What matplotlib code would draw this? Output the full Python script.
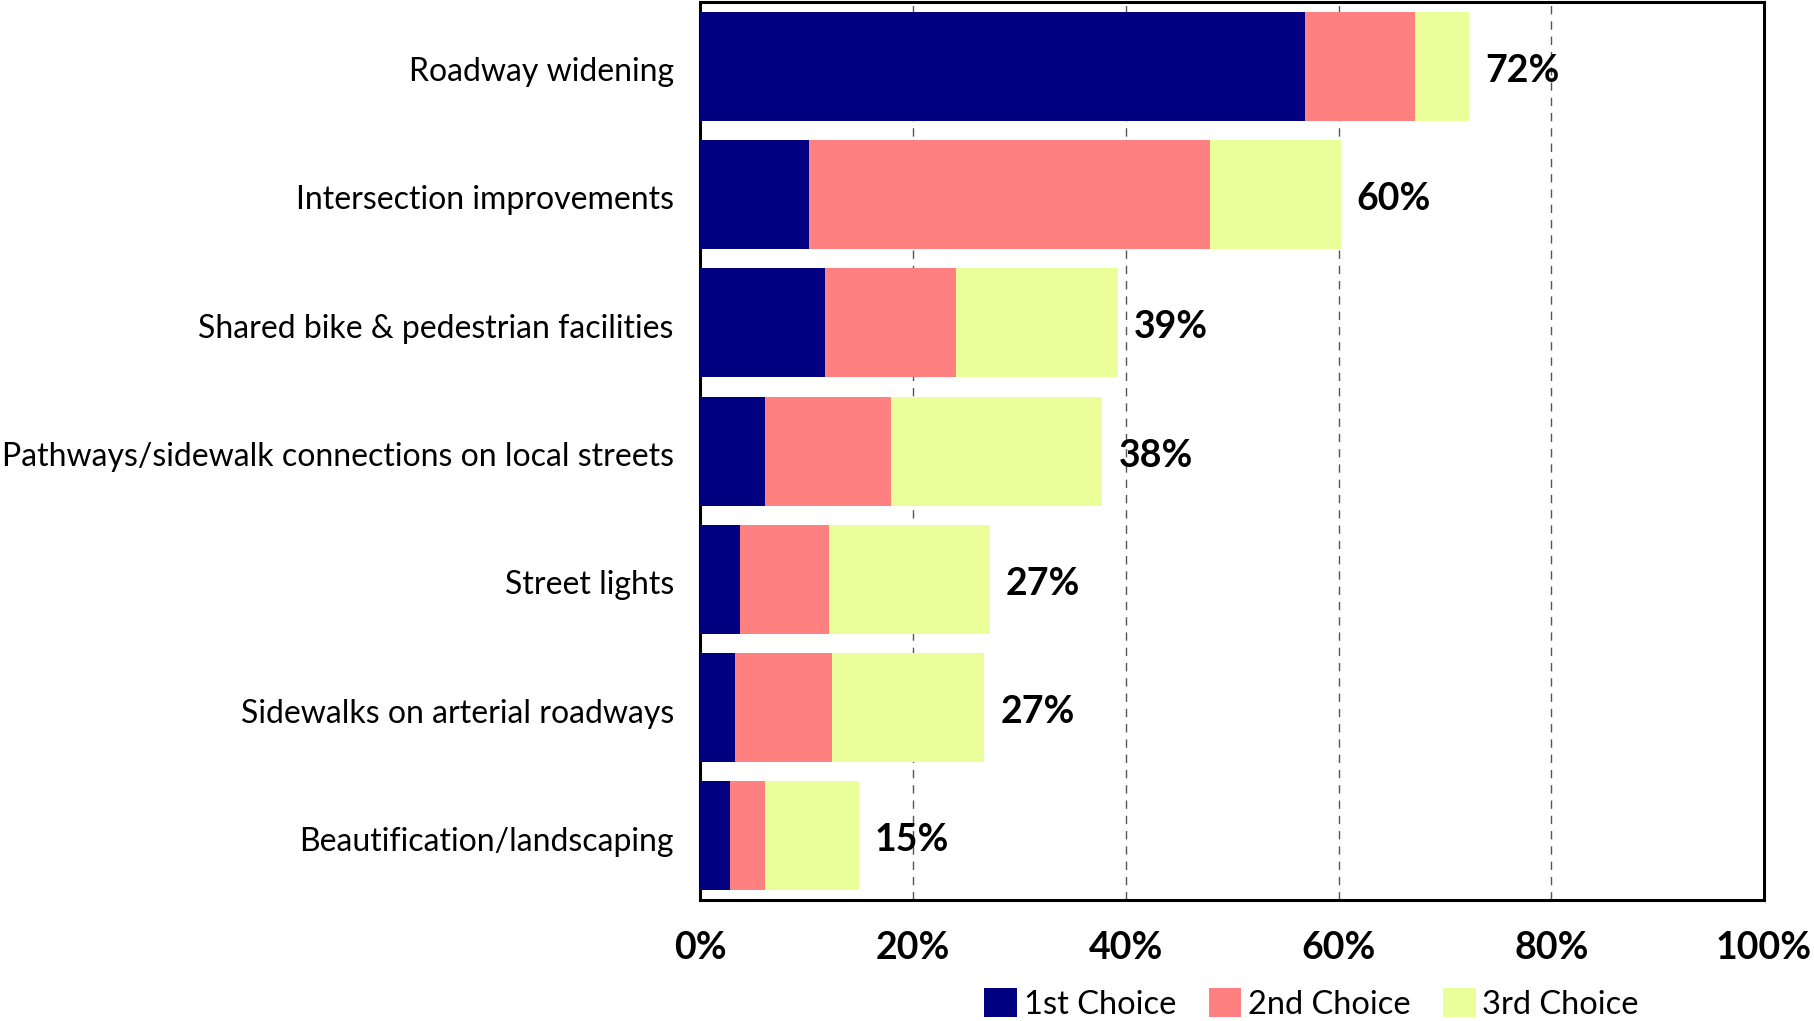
import matplotlib.pyplot as plt
import matplotlib.transforms as mtransforms
import numpy as np

# survey data, top to bottom as shown
categories = ['Roadway widening', 'Intersection improvements',
              'Shared bike & pedestrian facilities',
              'Pathways/sidewalk connections on local streets',
              'Street lights', 'Sidewalks on arterial roadways',
              'Beautification/landscaping']
first = [56.8, 10.2, 11.7, 6.1, 3.7, 3.3, 2.8]
second = [10.4, 37.7, 12.3, 11.8, 8.4, 9.1, 3.3]
third = [5.1, 12.3, 15.3, 19.9, 15.1, 14.3, 8.8]
series_names = ['1st Choice', '2nd Choice', '3rd Choice']
colors = ['#000080', '#FF8080', '#EAFF99']
xticks = [0, 20, 40, 60, 80, 100]

plt.rcParams['font.family'] = ['Lato', 'DejaVu Sans']

fig = plt.figure(figsize=(18.14, 10.21), dpi=100)
ax = fig.add_axes([0.386, 0.1185, 0.5865, 0.8795])

y = np.arange(len(categories))
left = np.zeros(len(categories))
for vals, name, c in zip([first, second, third], series_names, colors):
    ax.barh(y, vals, left=left, height=0.85, color=c, label=name, zorder=3)
    left += np.array(vals)

# totals at bar ends
for yi, tot in zip(y, left):
    ax.text(tot + 1.5, yi + 0.035, '%d%%' % round(tot), va='center', ha='left',
            fontsize=27, fontweight='bold', zorder=4)

ax.set_xlim(0, 100)
ax.set_ylim(len(categories) - 0.5, -0.5)
ax.set_yticks(y)
ax.set_yticklabels(categories, fontsize=23)
ax.set_xticks(xticks)
ax.set_xticklabels(['%d%%' % t for t in xticks], fontsize=27, fontweight='bold')
ax.tick_params(axis='both', length=0)
ax.tick_params(axis='x', pad=22)
ax.tick_params(axis='y', pad=19)

# nudge category labels down a touch
shift = mtransforms.ScaledTranslation(0, -3 / 100, fig.dpi_scale_trans)
for lbl in ax.get_yticklabels():
    lbl.set_transform(lbl.get_transform() + shift)

ax.grid(axis='x', color='#555555', linestyle=(0, (6, 5)), linewidth=1, zorder=0)
for s in ax.spines.values():
    s.set_linewidth(2.2)
    s.set_color('black')

fig.legend(loc='center', bbox_to_anchor=(0.723, 0.017), ncol=3, frameon=False,
           fontsize=23.5, handlelength=1.0, handleheight=1.0, handletextpad=0.2,
           columnspacing=1.0, borderpad=0)

fig.savefig('out.png', dpi=100)
